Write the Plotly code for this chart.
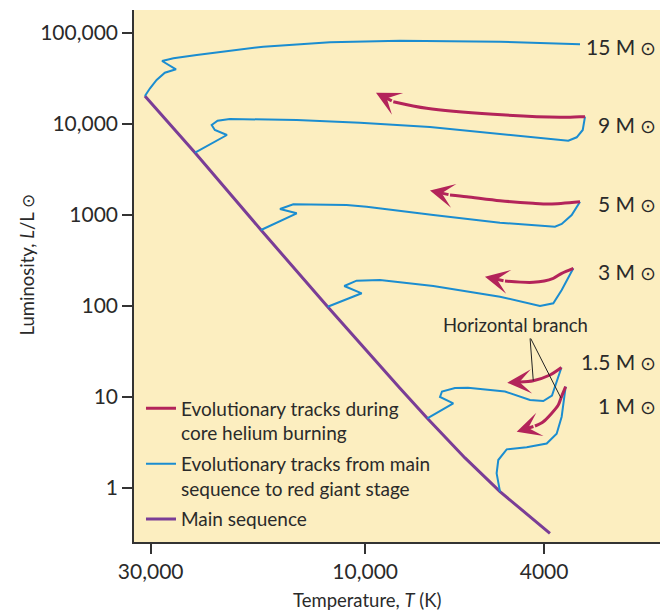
import numpy as np
import plotly.graph_objects as go

# ---------------- data (temperature in K, luminosity in L_sun) ----------------
MS_T = [30900, 23900, 17050, 12120, 8368, 7276, 5998, 5014, 3882]
MS_L = [20310, 4837, 684, 98.2, 12.46, 5.83, 2.14, 0.911, 0.318]

# blue: main sequence -> red giant
B15_T = [30900, 30100, 29100, 27900, 26350, 28300, 26700, 23700, 16850, 11975, 8368, 5014, 3328]
B15_L = [20310, 24680, 30440, 36630, 39920, 49230, 52720, 57330, 70720, 79040, 82300, 80250, 75130]

B9_T = [23900, 20300, 21600, 21950, 21300, 20000, 14200, 10270, 7176, 6152, 5014, 3534, 3385, 3282, 3244]
B9_L = [4837, 7569, 8592, 9750, 10870, 11350, 11070, 10330, 9268, 8592, 7765, 6555, 7142, 8592, 12030]

B5_T = [17050, 14200, 15470, 14450, 11000, 9924, 7055, 5014, 3784, 3655, 3473, 3328]
B5_L = [684, 1044, 1164, 1311, 1288, 1234, 1000, 823, 743, 796, 1000, 1400]

B3_T = [12120, 10180, 11130, 10450, 9270, 7055, 5014, 4085, 3816, 3655, 3444]
B3_L = [98.2, 137.9, 165.9, 189.7, 193.1, 165.9, 126.6, 100, 107.1, 149.9, 259.6]

B15s_T = [7276, 6369, 6817, 6748, 6313, 5908, 4887, 4300, 4017, 3842, 3660]
B15s_L = [5.83, 8.53, 10.0, 11.49, 12.56, 12.62, 11.49, 9.27, 9.04, 10.39, 21.10]

B1_T = [5014, 5101, 5058, 4845, 4373, 3947, 3751, 3656, 3582]
B1_L = [0.911, 1.45, 2.03, 2.66, 2.80, 3.08, 3.95, 6.07, 12.98]

# red: core helium burning (last point = arrow tip)
R9_T = [3244, 3328, 3687, 5191, 7298, 8660, 9462]
R9_L = [12030, 12030, 11850, 12780, 14880, 17590, 22080]

R5_T = [3328, 3882, 4235, 5014, 5946, 6477, 7176]
R5_L = [1400, 1321, 1345, 1436, 1589, 1659, 1858]

R3_T = [3444, 3655, 3816, 4228, 4887, 5415]
R3_L = [259.6, 228.8, 201.6, 182.1, 188.2, 209.9]

R15_T = [3660, 3882, 4228, 4526, 4831]
R15_L = [21.10, 17.45, 15.11, 14.62, 14.36]

R1_T = [3582, 3669, 3720, 4017, 4192, 4603]
R1_L = [12.98, 9.75, 8.17, 5.35, 4.80, 4.16]

X_TICKS = [30000, 10000, 4000]
X_TICKTEXT = ["30,000", "10,000", "4000"]
Y_TICKS = [1, 10, 100, 1000, 10000, 100000]
Y_TICKTEXT = ["1", "10", "100", "1000", "10,000", "100,000"]

MASS_LABELS = ["15", "9", "5", "3", "1.5", "1"]
LEGEND_NAMES = ["Evolutionary tracks during<br>core helium burning",
                "Evolutionary tracks from main<br>sequence to red giant stage",
                "Main sequence"]

# ---------------- style ----------------
RED = "#B3245A"
BLUE = "#1B8DD0"
PURPLE = "#7A3D96"
BG = "#FCEEC0"
TXT = "#2A2A2A"
FONT = "Lato"

fig = go.Figure()

fig.add_trace(go.Scatter(x=MS_T, y=MS_L, mode="lines", line=dict(color=PURPLE, width=3),
                         name=LEGEND_NAMES[2], legendgroup="ms", legendrank=3, showlegend=True,
                         hoverinfo="skip"))

blue_tracks = [(B15_T, B15_L), (B9_T, B9_L), (B5_T, B5_L), (B3_T, B3_L), (B15s_T, B15s_L), (B1_T, B1_L)]
for i, (tx, ly) in enumerate(blue_tracks):
    fig.add_trace(go.Scatter(x=tx, y=ly, mode="lines", line=dict(color=BLUE, width=2),
                             name=LEGEND_NAMES[1], legendgroup="blue", legendrank=2,
                             showlegend=(i == 0), hoverinfo="skip"))

red_tracks = [(R9_T, R9_L), (R5_T, R5_L), (R3_T, R3_L), (R15_T, R15_L), (R1_T, R1_L)]
annotations = []
for i, (tx, ly) in enumerate(red_tracks):
    fig.add_trace(go.Scatter(x=tx[:-1], y=ly[:-1], mode="lines",
                             line=dict(color=RED, width=3, shape="spline", smoothing=0.8),
                             name=LEGEND_NAMES[0], legendgroup="red", legendrank=1,
                             showlegend=(i == 0), hoverinfo="skip"))
    annotations.append(dict(x=np.log10(tx[-1]), y=np.log10(ly[-1]), xref="x", yref="y",
                            ax=np.log10(tx[-2]), ay=np.log10(ly[-2]), axref="x", ayref="y",
                            text="", showarrow=True, arrowhead=3, arrowsize=1.35,
                            arrowwidth=3, arrowcolor=RED, standoff=0, startstandoff=0))

# "Horizontal branch" pointers
annotations.append(dict(x=np.log10(R15_T[2]), y=np.log10(R15_L[2]), xref="x", yref="y",
                        ax=-3.3, ay=-43.7, text="", showarrow=True, arrowhead=0,
                        arrowwidth=1, arrowcolor="#222"))
annotations.append(dict(x=np.log10(R1_T[1]), y=np.log10(R1_L[1]), xref="x", yref="y",
                        ax=-31, ay=-61, text="", showarrow=True, arrowhead=0,
                        arrowwidth=1, arrowcolor="#222"))
annotations.append(dict(x=0.7144, y=0.4079, xref="paper", yref="paper", text="Horizontal branch",
                        showarrow=False, xanchor="center", yanchor="middle",
                        font=dict(family=FONT, size=18.5, color=TXT)))

# mass labels
mass_y = [0.9310, 0.7857, 0.6372, 0.5081, 0.3389, 0.2575]
for m, yy in zip(MASS_LABELS, mass_y):
    annotations.append(dict(x=0.9813, y=yy, xref="paper", yref="paper",
                            text=f"{m} M<span style='font-size:19px'> ⊙</span>",
                            showarrow=False, xanchor="right", yanchor="middle",
                            font=dict(family=FONT, size=21, color=TXT)))

# axis titles
annotations.append(dict(x=-0.2004, y=0.5216, xref="paper", yref="paper",
                        text="Luminosity, <i>L</i>/L<span style='font-size:17px'> ⊙</span>",
                        textangle=-90, showarrow=False, xanchor="center", yanchor="middle",
                        font=dict(family=FONT, size=18.5, color=TXT)))
annotations.append(dict(x=0.4354, y=-0.1090, xref="paper", yref="paper",
                        text="Temperature, <i>T</i> (K)",
                        showarrow=False, xanchor="center", yanchor="middle",
                        font=dict(family=FONT, size=18.5, color=TXT)))

axis_common = dict(showgrid=False, zeroline=False, showline=True, linecolor="#333",
                   linewidth=1.5, ticks="outside", ticklen=10, tickwidth=1.5, tickcolor="#333",
                   tickfont=dict(family=FONT, size=21, color=TXT))

fig.update_layout(
    width=660, height=604,
    margin=dict(l=126, r=0, t=2, b=70),
    paper_bgcolor="white", plot_bgcolor=BG,
    font=dict(family=FONT, size=19, color=TXT),
    xaxis=dict(type="log", range=[4.5142, 3.3265], tickvals=X_TICKS, ticktext=X_TICKTEXT,
               **axis_common),
    yaxis=dict(type="log", range=[-0.5934, 5.2527], tickvals=Y_TICKS, ticktext=Y_TICKTEXT,
               **axis_common),
    legend=dict(x=0.0131, y=0.2868, xanchor="left", yanchor="top", bgcolor="rgba(0,0,0,0)",
                itemwidth=30, valign="top", traceorder="grouped", tracegroupgap=3,
                font=dict(family=FONT, size=19, color=TXT)),
    annotations=annotations,
)

fig.write_html("out.html")
